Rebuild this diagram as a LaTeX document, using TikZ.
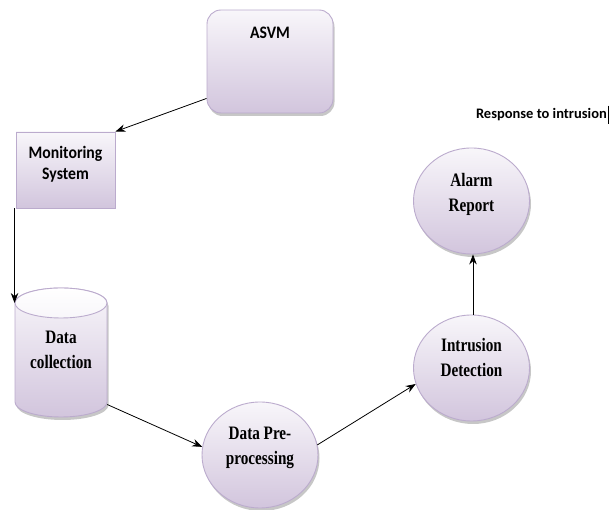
\documentclass[tikz,border=0pt]{standalone}
\usepackage{fontspec}
\newfontfamily\calib{Carlito}[FakeStretch=0.9]
\newfontfamily\calibwide{Carlito}
\newfontfamily\tms{Liberation Serif}[FakeStretch=0.8]
\usetikzlibrary{shapes.geometric,shadows,arrows.meta}

\definecolor{edgeC}{HTML}{BBABCD}
\definecolor{topC}{HTML}{F8F6FA}
\definecolor{botC}{HTML}{D2C5DD}

\tikzset{
  fillbox/.style={draw=edgeC, line width=0.9pt, top color=topC, bottom color=botC},
  shadowed/.style={drop shadow={shadow xshift=1.5pt, shadow yshift=-3pt, fill=black, opacity=0.22}},
  sanslabel/.style={font=\calib\bfseries\fontsize{17.5}{21}\selectfont, align=center, inner sep=0pt},
  seriflabel/.style={font=\tms\bfseries\fontsize{19}{25}\selectfont, align=center, inner sep=0pt},
  arr/.style={-{Stealth[length=10pt,width=7.5pt]}, line width=0.8pt, black},
  stage/.style={ellipse, fillbox, shadowed, minimum width=116pt, minimum height=106pt, inner sep=0pt},
}

\begin{document}
\begin{tikzpicture}[x=1pt,y=1pt]
\useasboundingbox (0,0) rectangle (613,510);

% ASVM block
\node[fillbox, shadowed, rounded corners=14pt, minimum width=126pt, minimum height=103pt] (asvm) at (270,448.5) {};
\node[sanslabel] (asvmtext) at (270,477) {ASVM};

% monitoring system
\node[fillbox, rectangle, minimum width=99pt, minimum height=76pt] (mon) at (65.5,340) {};
\node[sanslabel] (montext) at (65.5,346) {Monitoring\\System};

% data store: a vertical cylinder drawn around an invisible frame node
\node[minimum width=92pt, minimum height=129pt, inner sep=0pt] (dc) at (61,157.5) {};
\path[fillbox, shadowed]
  (15,207) -- (15,108)
  arc[start angle=180, end angle=360, x radius=46, y radius=15]
  -- (107,207)
  arc[start angle=0, end angle=180, x radius=46, y radius=15] -- cycle;
\path[draw=edgeC, line width=0.9pt, top color=white, bottom color=topC]
  (61,207) ellipse[x radius=46, y radius=15];
\node[seriflabel] (dctext) at (61,160) {Data\\collection};

% processing stages
\node[stage] (pp) at (260,55) {};
\node[seriflabel] (pptext) at (260,62) {Data Pre-\\processing};

\node[stage] (id) at (471.5,142) {};
\node[seriflabel] (idtext) at (471.5,152) {Intrusion\\Detection};

\node[stage] (ar) at (471.5,309) {};
\node[seriflabel] (artext) at (471.5,316) {Alarm\\Report};

% response caption with text cursor
\node[font=\calibwide\bfseries\fontsize{14.5}{17}\selectfont, inner sep=0pt, anchor=east] (resp) at (607,395) {Response to intrusion};
\draw[line width=1pt] ([xshift=1.5pt,yshift=3pt]resp.north east) -- ([xshift=1.5pt,yshift=-3pt]resp.south east);

% connectors
\coordinate (dcin) at (15,207);
\coordinate (monout) at ([xshift=-1pt]mon.south west);
\draw[arr] ([yshift=15pt]asvm.south west) -- (mon.north east);
\draw[arr] (monout) -- (monout |- dcin);
\draw[arr] ([yshift=-52pt]dc.east) -- (pp.172);
\draw[arr] (pp.10) -- (id.196);
\draw[arr] ([xshift=1.5pt]id.north) -- ([xshift=1.5pt]ar.south);
\end{tikzpicture}
\end{document}
